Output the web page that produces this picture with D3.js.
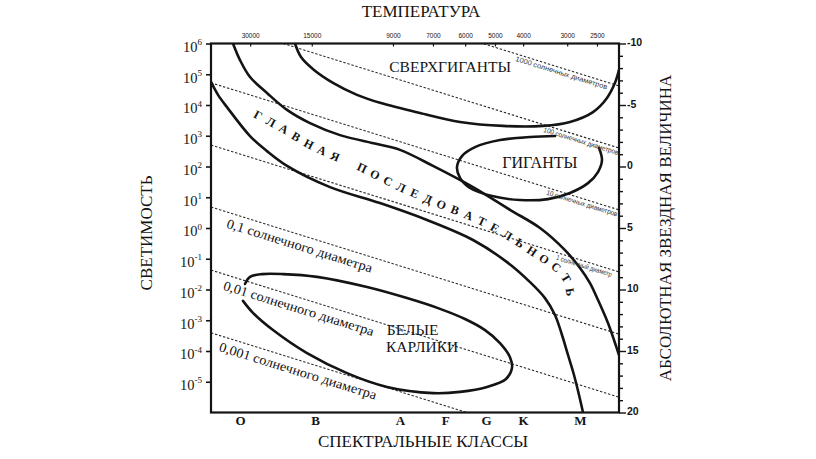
<!DOCTYPE html>
<html><head><meta charset="utf-8">
<script src="https://cdn.jsdelivr.net/npm/d3@7"></script>
<style>
body{margin:0;background:#fff}
.serif{font-family:"Liberation Serif","DejaVu Serif",serif}
.sans{font-family:"Liberation Sans","DejaVu Sans",sans-serif}
</style>
</head><body>
<svg id="c" width="816" height="459"></svg>
<script>
// ---------- data ----------
const spectralClasses = ["O","B","A","F","G","K","M"];
const spectralPos = [7.1, 25.5, 46.3, 57.4, 67.4, 76.5, 90.4];
const tempLabels = ["30000","15000","9000","7000","6000","5000","4000","3000","2500"];
const tempPos = [9.6, 24.7, 44.6, 54.4, 62.3, 69.6, 76.5, 87.3, 94.6];
const luminosityExponents = [-5,-4,-3,-2,-1,0,1,2,3,4,5,6];
const magnitudeLabels = [-10,-5,0,5,10,15,20];

const radiusNames = ["1000 солнечных диаметров","100 солнечных диаметров","10 солнечных диаметров","1 солнечный диаметр","0,1 солнечного диаметра","0,01 солнечного диаметра","0,001 солнечного диаметра"];
const radiusLogLLeft  = [8.75, 6.73, 4.72, 2.70, 0.68, -1.37, -3.41];
const radiusLogLRight = [4.62, 2.60, 0.59, -1.43, -3.45, -5.50, -7.54];
const radiusLabelU    = [75.0, 81.9, 82.6, 85.0, 4.7, 3.9, 2.9];

const supergiantsU    = [20.59,22.06,25.25,29.90,35.78,41.42,46.32,51.23,61.03,71.57,81.37,87.99,93.63,97.06,99.02,100];
const supergiantsLogL = [6.0,5.56,5.14,4.72,4.33,4.07,3.90,3.74,3.45,3.32,3.32,3.45,3.77,4.23,4.72,5.14];

const msUpperU    = [5.39,7.11,9.56,13.73,18.63,24.26,31.62,40.69,46.32,54.41,64.22,73.28,80.64,86.76,90.44,92.89,94.85,97.30,99.02,100];
const msUpperLogL = [6.0,5.46,4.91,4.39,3.84,3.41,3.02,2.73,2.54,2.02,1.33,0.59,0.0,-0.72,-1.30,-1.79,-2.34,-3.09,-3.74,-4.13];

const msLowerU    = [0,1.72,3.92,9.56,13.73,18.63,29.17,41.42,52.94,64.22,72.55,78.19,81.86,84.31,86.03,87.50,88.97,90.20,91.18];
const msLowerLogL = [4.75,4.33,3.93,2.99,2.50,2.02,1.33,0.81,0.26,-0.39,-1.11,-1.76,-2.28,-2.83,-3.48,-4.13,-4.78,-5.43,-6.0];

const giantsU    = [84.31,78.19,70.83,64.71,61.52,60.29,61.03,63.48,68.87,75.74,82.60,87.99,92.40,94.85,95.83,95.10];
const giantsLogL = [2.99,2.96,2.86,2.63,2.34,1.98,1.63,1.30,1.04,0.91,0.94,1.14,1.46,1.82,2.21,2.60];

const dwarfsU    = [8.33,9.56,12.50,17.65,25.98,38.24,48.04,56.13,62.25,67.16,70.83,73.28,73.77,72.30,67.65,61.03,54.41,43.14,33.33,23.53,15.20,10.29,7.84];
const dwarfsLogL = [-1.82,-1.59,-1.50,-1.50,-1.59,-1.92,-2.28,-2.63,-2.96,-3.32,-3.74,-4.20,-4.55,-4.91,-5.17,-5.33,-5.37,-5.17,-4.72,-4.07,-3.32,-2.76,-2.37];

const msText = "ГЛАВНАЯ ПОСЛЕДОВАТЕЛЬНОСТЬ";
const msTextU    = [11.52,17.40,23.53,29.66,36.52,46.32,56.62,66.67,73.28,78.92,84.80,87.25,87.99];
const msTextLogL = [3.67,3.25,2.76,2.37,1.98,1.33,0.75,0.20,-0.29,-0.78,-1.30,-1.69,-2.08];

const regionNames = ["СВЕРХГИГАНТЫ","ГИГАНТЫ","БЕЛЫЕ","КАРЛИКИ"];
const regionU     = [58.6, 80.6, 43.1, 42.9];
const regionLogL  = [5.07, 1.95, -3.48, -4.03];
const regionAnchor= ["middle","middle","start","start"];

// ---------- drawing ----------
const W=816,H=459;
const plot={l:211,r:619,t:43.5,b:412.5};
const x=d3.scaleLinear().domain([0,100]).range([plot.l,plot.r]);
const y=d3.scaleLog().domain([1e-6,1e6]).range([plot.b,plot.t]);
const mag=d3.scaleLinear().domain([-10,20]).range([plot.t,plot.b]);
const zip=(a,b)=>a.map((v,i)=>[v,b[i]]);
const ink="#141414";

const svg=d3.select("#c");
svg.append("rect").attr("width",W).attr("height",H).attr("fill","#fff");
svg.append("defs").append("clipPath").attr("id","clip").append("rect")
  .attr("x",plot.l).attr("y",plot.t).attr("width",plot.r-plot.l).attr("height",plot.b-plot.t);

const line=d3.line().x(d=>x(d[0])).y(d=>y(10**d[1])).curve(d3.curveCatmullRom.alpha(0.5));
const pg=svg.append("g").attr("clip-path","url(#clip)");

// constant radius lines
radiusNames.forEach((nm,i)=>{
  pg.append("line").attr("x1",x(0)).attr("y1",y(10**radiusLogLLeft[i]))
    .attr("x2",x(100)).attr("y2",y(10**radiusLogLRight[i]))
    .attr("stroke","#2a2a2a").attr("stroke-width",1.1).attr("stroke-dasharray","2.4,1.8");
});

// region curves
[[supergiantsU,supergiantsLogL],[msUpperU,msUpperLogL],[msLowerU,msLowerLogL],[giantsU,giantsLogL],[dwarfsU,dwarfsLogL]]
 .forEach(([u,l])=>{
  pg.append("path").attr("d",line(zip(u,l))).attr("fill","none").attr("stroke",ink)
    .attr("stroke-width",2.6).attr("stroke-linecap","round").attr("stroke-linejoin","round");
 });

// radius labels
const small=[true,true,true,true,false,false,false];
const lens=[96,78,74,58,152,157,164];
radiusNames.forEach((nm,i)=>{
  const a=Math.atan2(y(10**radiusLogLRight[i])-y(10**radiusLogLLeft[i]), x(100)-x(0));
  const u=radiusLabelU[i];
  const l=radiusLogLLeft[i]+(radiusLogLRight[i]-radiusLogLLeft[i])*u/100;
  const d=small[i]?7:15;
  const px=x(u)-d*Math.sin(a), py=y(10**l)+d*Math.cos(a);
  svg.append("text").attr("class",small[i]?"sans":"serif")
    .attr("transform",`translate(${px},${py}) rotate(${a*180/Math.PI})`)
    .attr("font-size",small[i]?7:13.5).attr("fill",small[i]?"#333":ink)
    .attr("textLength",lens[i]).attr("lengthAdjust","spacingAndGlyphs").text(nm);
});

// main sequence text
const msPath=svg.append("path").attr("d",line(zip(msTextU,msTextLogL))).attr("fill","none").attr("stroke","none");
const node=msPath.node(), L=node.getTotalLength();
const chars=Array.from(msText), step=L/(chars.length-1);
chars.forEach((ch,i)=>{
  if(ch===" ")return;
  const s=i*step, p=node.getPointAtLength(s);
  const p0=node.getPointAtLength(Math.max(0,s-3)), p1=node.getPointAtLength(Math.min(L,s+3));
  const a=Math.atan2(p1.y-p0.y,p1.x-p0.x)*180/Math.PI;
  svg.append("text").attr("class","serif").attr("transform",`translate(${p.x},${p.y}) rotate(${a})`)
    .attr("text-anchor","middle").attr("dominant-baseline","central")
    .attr("font-weight","bold").attr("font-size",12).attr("fill",ink).text(ch);
});

// region labels
regionNames.forEach((nm,i)=>{
  svg.append("text").attr("class","serif").attr("x",x(regionU[i])).attr("y",y(10**regionLogL[i]))
    .attr("text-anchor",regionAnchor[i]).attr("font-size",i===1?16:15.5)
    .attr("fill",ink).text(nm);
});

// frame
svg.append("rect").attr("x",plot.l).attr("y",plot.t).attr("width",plot.r-plot.l).attr("height",plot.b-plot.t)
  .attr("fill","none").attr("stroke",ink).attr("stroke-width",2.2);

// left axis
const gl=svg.append("g").attr("transform",`translate(${plot.l},0)`)
  .call(d3.axisLeft(y).tickValues(luminosityExponents.map(e=>10**e)).tickSize(5).tickFormat(""));
gl.select(".domain").remove();
gl.selectAll(".tick line").attr("stroke",ink).attr("stroke-width",1.6);
gl.selectAll(".tick text").remove();
gl.selectAll(".tick").each(function(d,i){
  const t=d3.select(this).append("text").attr("class","serif").attr("x",-9).attr("dy","0.55em")
    .attr("text-anchor","end").attr("font-size",14.5).attr("fill",ink);
  t.append("tspan").text("10");
  t.append("tspan").attr("font-size",9).attr("dy","-0.75em").text(String(luminosityExponents[i]));
});

// right axis
const gr=svg.append("g").attr("transform",`translate(${plot.r},0)`)
  .call(d3.axisRight(mag).tickValues(d3.range(-10,21)).tickSize(4).tickPadding(4)
    .tickFormat(d=>magnitudeLabels.includes(d)?String(d):""));
gr.select(".domain").remove();
gr.selectAll(".tick line").attr("x2",d=>d%5===0?7:4).attr("stroke",ink).attr("stroke-width",1.4);
gr.selectAll(".tick text").attr("class","sans").attr("x",8).attr("dy","0.2em")
  .attr("font-weight","bold").attr("font-size",10.5).attr("fill",ink);

// top axis (temperature)
const gt=svg.append("g").attr("transform",`translate(0,${plot.t})`)
  .call(d3.axisTop(x).tickValues(tempPos).tickFormat((d,i)=>tempLabels[i]).tickSizeInner(-3).tickSizeOuter(0).tickPadding(6));
gt.select(".domain").remove();
gt.selectAll(".tick line").attr("stroke",ink).attr("stroke-width",1.2);
gt.selectAll(".tick text").attr("class","sans").attr("font-size",6.5).attr("fill",ink);

// bottom axis (spectral classes)
const gb=svg.append("g").attr("transform",`translate(0,${plot.b})`)
  .call(d3.axisBottom(x).tickValues(spectralPos).tickFormat((d,i)=>spectralClasses[i]).tickSize(0).tickPadding(3));
gb.select(".domain").remove();
gb.selectAll(".tick text").attr("class","serif").attr("font-weight","bold").attr("font-size",13).attr("fill",ink);

// titles
const title=(tr,txt)=>svg.append("text").attr("class","serif").attr("transform",tr)
  .attr("text-anchor","middle").attr("font-size",17).attr("fill",ink).text(txt);
title("translate(421,17)","ТЕМПЕРАТУРА");
title("translate(423,447)","СПЕКТРАЛЬНЫЕ КЛАССЫ");
title("translate(152,233) rotate(-90)","СВЕТИМОСТЬ");
title("translate(671,228) rotate(-90)","АБСОЛЮТНАЯ ЗВЕЗДНАЯ ВЕЛИЧИНА");
</script>
</body></html>
